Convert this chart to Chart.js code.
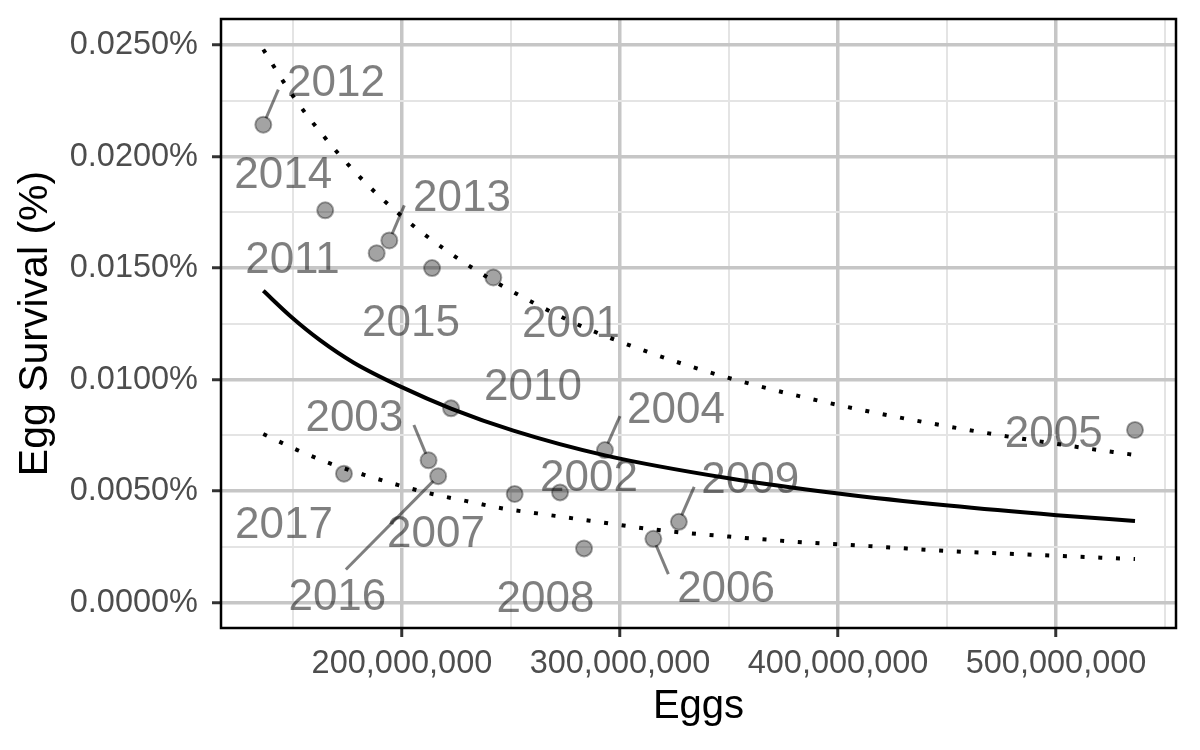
<!DOCTYPE html>
<html>
<head>
<meta charset="utf-8">
<script src="https://cdn.jsdelivr.net/npm/chart.js@4.4.1/dist/chart.umd.min.js"></script>
<style>
  html, body { margin: 0; padding: 0; background: #ffffff; }
  #c { display: block; }
</style>
</head>
<body>
<canvas id="c" width="1200" height="750"></canvas>
<script>
// ---------- data ----------
const years = [2001, 2002, 2003, 2004, 2005, 2006, 2007, 2008, 2009,
               2010, 2011, 2012, 2013, 2014, 2015, 2016, 2017];
const eggs = [241.9e6, 272.5e6, 212.2e6, 293.1e6, 536.2e6, 315.3e6, 251.7e6, 283.5e6, 327.0e6,
              222.5e6, 188.4e6, 136.4e6, 194.2e6, 164.8e6, 213.8e6, 216.6e6, 173.4e6];
// egg survival, in percent
const survival = [0.01458, 0.00494, 0.00638, 0.00684, 0.00774, 0.00286, 0.00487, 0.00243, 0.00362,
                  0.00871, 0.01567, 0.02143, 0.01624, 0.01759, 0.01500, 0.00567, 0.00578];

// fitted curve
const fitX = [136.4e6, 149.0e6, 162.4e6, 177.7e6, 199.9e6, 222.5e6, 251.1e6, 293.1e6, 350.5e6, 400.1e6, 450.6e6, 500.3e6, 536.2e6];
const fitY = [0.01398, 0.01283, 0.01177, 0.01077, 0.00966, 0.00870, 0.00771, 0.00660, 0.00556, 0.00489, 0.00435, 0.00392, 0.00366];
// upper dotted band
const upperX = [136.4e6, 149.9e6, 164.8e6, 181.1e6, 199.1e6, 218.2e6, 238.5e6, 260.0e6, 282.0e6, 312.5e6,
                343.6e6, 374.9e6, 414.7e6, 462.8e6, 511.0e6, 536.2e6];
const upperY = [0.02480, 0.02273, 0.02083, 0.01904, 0.01739, 0.01594, 0.01463, 0.01346, 0.01241, 0.01125,
                0.01025, 0.00943, 0.00856, 0.00769, 0.00696, 0.00662];
// lower dotted band
const lowerX = [136.4e6, 152.0e6, 167.0e6, 182.6e6, 198.3e6, 213.9e6, 229.7e6, 246.2e6, 262.1e6, 286.2e6,
                318.7e6, 351.2e6, 383.3e6, 416.2e6, 448.6e6, 481.2e6, 513.8e6, 536.2e6];
const lowerY = [0.00756, 0.00684, 0.00624, 0.00573, 0.00527, 0.00487, 0.00455, 0.00422, 0.00400, 0.00367,
                0.00324, 0.00295, 0.00271, 0.00252, 0.00232, 0.00218, 0.00204, 0.00195];

// axis ticks
const xMajorTicks = [200e6, 300e6, 400e6, 500e6];
const xMinorTicks = [150e6, 250e6, 350e6, 450e6, 550e6];
const yMajorTicks = [0, 0.005, 0.010, 0.015, 0.020, 0.025];
const yMinorTicks = [0.0025, 0.0075, 0.0125, 0.0175, 0.0225];

// ---------- layout of the repelled year labels (pixel offsets from each point) ----------
const labelOffsets = [[77.7, 43.7], [29, -17.3], [-74.2, -45.3], [71, -43], [-81.3, 1], [72.7, 47.3],
  [-78.7, 37], [-38.5, 48.2], [71.3, -44.7], [82, -24.3], [-84.2, 4.2], [72.7, -44.2], [72.7, -45.1],
  [-42, -38.1], [-21, 52.5], [-100.8, 118.5], [-60, 48.3]];
const segmentEnds = [null, null, [-14.7, -35.3], [15, -34], null, [15, 35.3], null, null, [15.3, -35],
  null, null, [15, -35], [15, -35], null, null, [-92.3, 93.3], null];

const FONT = "'Liberation Sans', Arial, Helvetica, sans-serif";

function buildTicks(major, minor) {
  const list = major.map(v => ({ value: v, isMinor: false }))
    .concat(minor.map(v => ({ value: v, isMinor: true })));
  list.sort((a, b) => a.value - b.value);
  return list;
}
const isMinor = ctx => !!(ctx && ctx.tick && ctx.tick.isMinor);

const annotPlugin = {
  id: 'annot',
  afterDatasetsDraw(chart) {
    const ctx = chart.ctx;
    const meta = chart.getDatasetMeta(0);
    ctx.save();
    // segments
    ctx.strokeStyle = 'rgba(0,0,0,0.5)';
    ctx.lineWidth = 3;
    meta.data.forEach((pt, i) => {
      const s = segmentEnds[i];
      if (!s) return;
      const len = Math.hypot(s[0], s[1]);
      ctx.beginPath();
      ctx.moveTo(pt.x + s[0] / len * 7, pt.y + s[1] / len * 7);
      ctx.lineTo(pt.x + s[0], pt.y + s[1]);
      ctx.stroke();
    });
    // labels
    const fs = 44;
    ctx.font = fs + 'px ' + FONT;
    ctx.fillStyle = 'rgba(0,0,0,0.5)';
    ctx.textAlign = 'center';
    ctx.textBaseline = 'alphabetic';
    meta.data.forEach((pt, i) => {
      const o = labelOffsets[i];
      ctx.fillText(String(years[i]), pt.x + o[0], pt.y + o[1] + 0.358 * fs);
    });
    // panel border
    const a = chart.chartArea;
    ctx.strokeStyle = '#000';
    ctx.lineWidth = 2.5;
    ctx.strokeRect(a.left, a.top, a.right - a.left, a.bottom - a.top);
    ctx.restore();
  }
};

const toXY = (xs, ys) => xs.map((x, i) => ({ x: x, y: ys[i] }));

new Chart(document.getElementById('c'), {
  type: 'scatter',
  data: {
    datasets: [
      {
        label: 'Years',
        data: toXY(eggs, survival),
        pointRadius: 8,
        pointBackgroundColor: 'rgba(0,0,0,0.36)',
        pointBorderColor: 'rgba(0,0,0,0.35)',
        pointBorderWidth: 2,
        showLine: false
      },
      {
        label: 'Fit',
        type: 'line',
        data: toXY(fitX, fitY),
        borderColor: '#000',
        borderWidth: 4,
        pointRadius: 0,
        cubicInterpolationMode: 'monotone',
        fill: false
      },
      {
        label: 'Upper',
        type: 'line',
        data: toXY(upperX, upperY),
        borderColor: '#000',
        borderWidth: 4,
        borderDash: [4, 13.7],
        borderCapStyle: 'butt',
        pointRadius: 0,
        cubicInterpolationMode: 'monotone',
        fill: false
      },
      {
        label: 'Lower',
        type: 'line',
        data: toXY(lowerX, lowerY),
        borderColor: '#000',
        borderWidth: 4,
        borderDash: [4, 13.7],
        borderCapStyle: 'butt',
        pointRadius: 0,
        cubicInterpolationMode: 'monotone',
        fill: false
      }
    ]
  },
  options: {
    responsive: false,
    animation: false,
    devicePixelRatio: 1,
    layout: { padding: { top: 19, right: 24, left: 0, bottom: 0 } },
    plugins: { legend: { display: false }, tooltip: { enabled: false } },
    scales: {
      x: {
        type: 'linear',
        min: 117.0e6,
        max: 555.0e6,
        afterBuildTicks: s => { s.ticks = buildTicks(xMajorTicks, xMinorTicks); },
        afterFit: s => { s.height = 122; s.paddingLeft = 0; s.paddingRight = 0; },
        border: { display: false },
        grid: {
          color: c => isMinor(c) ? '#E4E4E4' : '#C6C6C6',
          lineWidth: c => isMinor(c) ? 2 : 3.5,
          tickColor: c => isMinor(c) ? 'rgba(0,0,0,0)' : '#333333',
          tickWidth: 3,
          tickLength: 9
        },
        ticks: {
          autoSkip: false,
          maxRotation: 0,
          padding: 8,
          color: '#4D4D4D',
          font: { family: FONT, size: 32.5 },
          callback: (v, i, t) => t[i].isMinor ? '' : Number(v).toLocaleString('en-US')
        },
        title: {
          display: true,
          text: 'Eggs',
          color: '#000',
          font: { family: FONT, size: 40 },
          padding: { top: 0, bottom: 19 }
        }
      },
      y: {
        type: 'linear',
        min: -0.00114,
        max: 0.02617,
        afterBuildTicks: s => { s.ticks = buildTicks(yMajorTicks, yMinorTicks); },
        afterFit: s => { s.width = 221; s.paddingTop = 0; s.paddingBottom = 0; },
        border: { display: false },
        grid: {
          color: c => isMinor(c) ? '#E4E4E4' : '#C6C6C6',
          lineWidth: c => isMinor(c) ? 2 : 3.5,
          tickColor: c => isMinor(c) ? 'rgba(0,0,0,0)' : '#333333',
          tickWidth: 3,
          tickLength: 9
        },
        ticks: {
          autoSkip: false,
          padding: 14,
          color: '#4D4D4D',
          font: { family: FONT, size: 32.5 },
          callback: (v, i, t) => t[i].isMinor ? '' : Number(v).toFixed(4) + '%'
        },
        title: {
          display: true,
          text: 'Egg Survival (%)',
          color: '#000',
          font: { family: FONT, size: 41 },
          padding: { top: 11, bottom: 0 }
        }
      }
    }
  },
  plugins: [annotPlugin]
});
</script>
</body>
</html>
